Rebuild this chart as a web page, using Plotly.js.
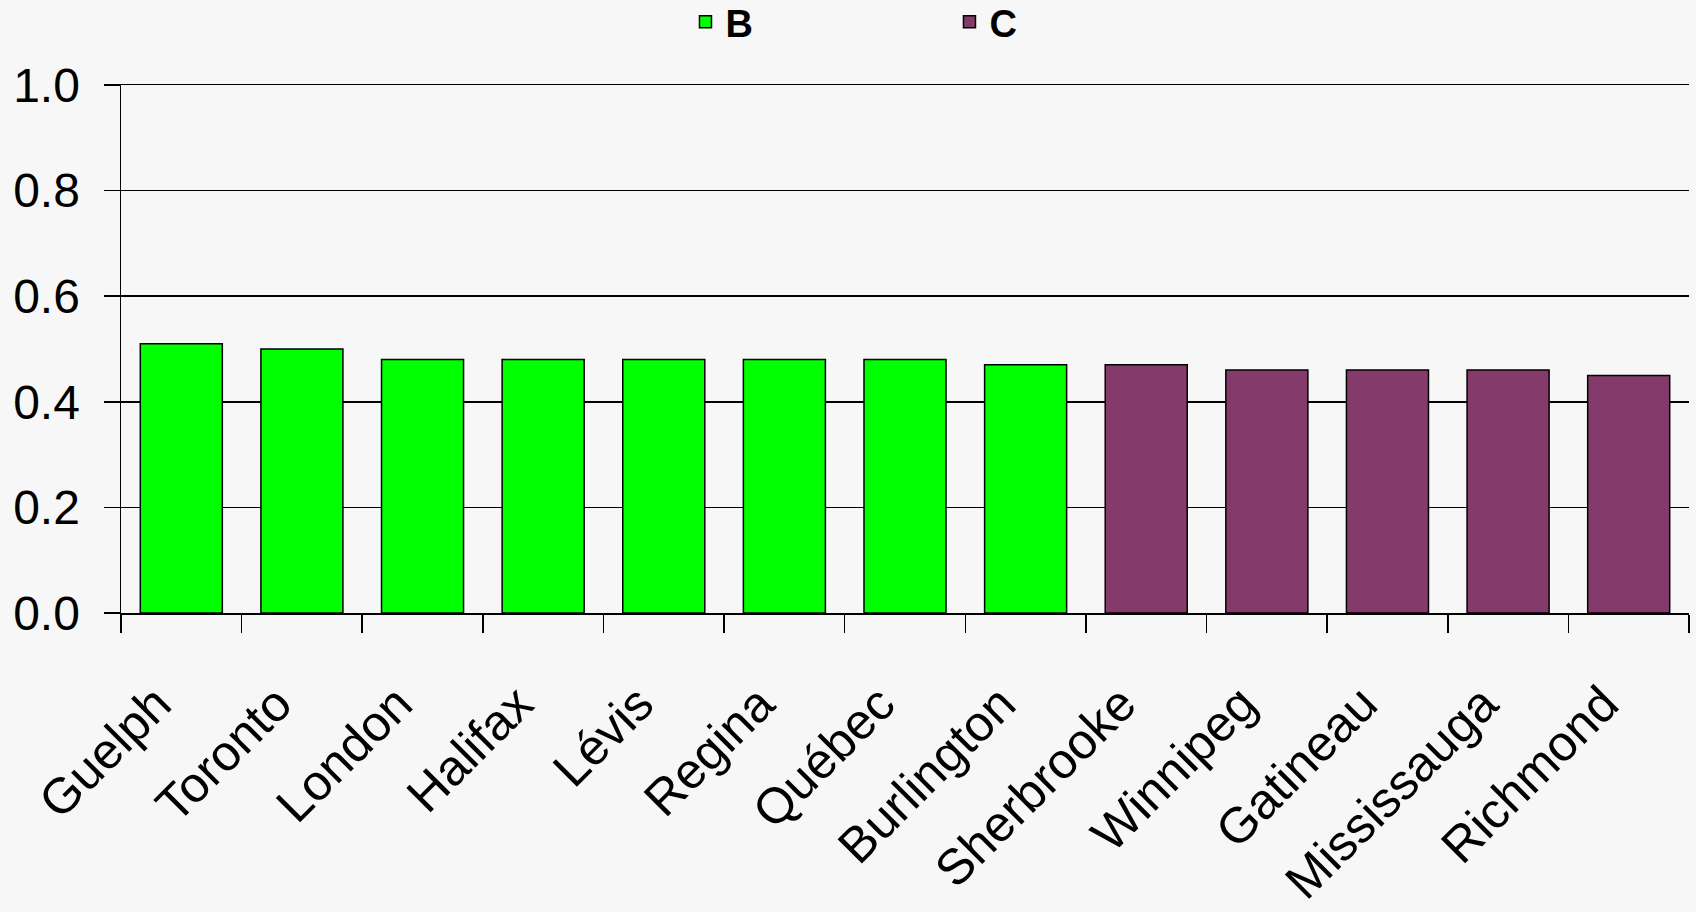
<!DOCTYPE html>
<html>
<head>
<meta charset="utf-8">
<script src="https://cdn.plot.ly/plotly-3.0.1.min.js"></script>
<style>
html,body{margin:0;padding:0;background:#f7f7f7;}
#chart{width:1696px;height:912px;}
</style>
</head>
<body>
<div id="chart"></div>
<script>
const citiesB = ["Guelph","Toronto","London","Halifax","Lévis","Regina","Québec","Burlington"];
const valuesB = [0.51,0.50,0.48,0.48,0.48,0.48,0.48,0.47];
const citiesC = ["Sherbrooke","Winnipeg","Gatineau","Mississauga","Richmond"];
const valuesC = [0.47,0.46,0.46,0.46,0.45];
const yTicks = [0,0.2,0.4,0.6,0.8,1.0];
const yTickLabels = ["0.0","0.2","0.4","0.6","0.8","1.0"];

const font = "Liberation Sans, Arial, sans-serif";
const traces = [
  {type:"bar", name:"B", x:citiesB, y:valuesB,
   marker:{color:"#00ff00", line:{color:"#000000", width:1.5}}},
  {type:"bar", name:"C", x:citiesC, y:valuesC,
   marker:{color:"#843a6a", line:{color:"#000000", width:1.5}}}
];
const layout = {
  width:1696, height:912,
  paper_bgcolor:"#f7f7f7", plot_bgcolor:"#f7f7f7",
  margin:{l:121, r:7, t:85, b:299, autoexpand:false},
  barmode:"overlay", bargap:0.32,
  font:{family:font, color:"#000"},
  showlegend:true,
  legend:{orientation:"h", x:0.36, xanchor:"left", y:1.119, yanchor:"middle",
          entrywidth:219, entrywidthmode:"pixels",
          font:{family:font, size:38, weight:"bold", color:"#000"},
          bgcolor:"rgba(0,0,0,0)"},
  xaxis:{type:"category", categoryorder:"array", categoryarray:citiesB.concat(citiesC),
         showline:true, mirror:true, linecolor:"#000", linewidth:1.5,
         ticks:"outside", tickson:"boundaries", ticklen:18, tickcolor:"#000", tickwidth:1.5,
         tickangle:-45, tickfont:{family:font, size:50, color:"#000"},
         ticklabelstandoff:40, ticklabelshift:-25, showgrid:false, zeroline:false, fixedrange:true},
  yaxis:{range:[0,1], tickvals:yTicks, ticktext:yTickLabels,
         showline:true, linecolor:"#000", linewidth:1.5,
         ticks:"outside", ticklen:16, tickcolor:"#000", tickwidth:1.5,
         ticklabelstandoff:14,
         tickfont:{family:font, size:48, color:"#000"},
         showgrid:true, gridcolor:"#000", gridwidth:1.5, zeroline:false, fixedrange:true}
};
Plotly.newPlot("chart", traces, layout, {displayModeBar:false, staticPlot:true});
</script>
</body>
</html>
